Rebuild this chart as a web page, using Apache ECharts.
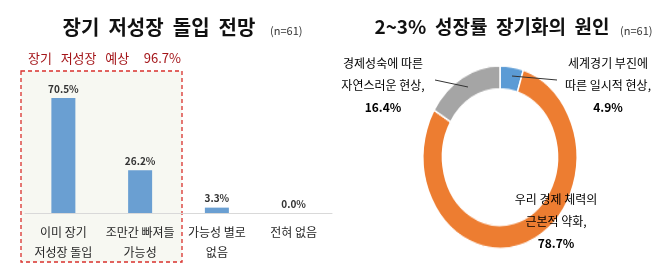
<!DOCTYPE html>
<html>
<head>
<meta charset="utf-8">
<script src="https://cdn.jsdelivr.net/npm/echarts@6/dist/echarts.min.js"></script>
<style>
  html, body { margin: 0; padding: 0; background: #ffffff; }
  #wrap { position: relative; width: 670px; height: 268px; }
  #pie { position: absolute; left: 400px; top: 57px; width: 200px; height: 200px;
         transform: scaleY(1.185); transform-origin: 50% 50%; z-index: 0; }
  #main { position: absolute; left: 0; top: 0; width: 670px; height: 268px; z-index: 1; }
</style>
</head>
<body>
<div id="wrap">
  <div id="pie"></div>
  <div id="main"></div>
</div>
<script>
// left: 장기 저성장 돌입 전망
const barCategories = ["이미 장기\n저성장 돌입", "조만간 빠져들\n가능성", "가능성 별로\n없음", "전혀 없음"];
const barValues = [70.5, 26.2, 3.3, 0.0];

// right: 2~3% 성장률 장기화의 원인
const pieNames = ["세계경기 부진에\n따른 일시적 현상,", "우리 경제 체력의\n근본적 약화,", "경제성숙에 따른\n자연스러운 현상,"];
const pieValues = [4.9, 78.7, 16.4];
const pieColors = ["#5b9bd5", "#ed7d31", "#a5a5a5"];

const FONT = "'Noto Sans CJK KR', 'Noto Sans', sans-serif";
const expected = (barValues[0] + barValues[1]).toFixed(1);

function pieLabel(i) {
  const lines = pieNames[i].split("\n").map(l => `{a|${l}}`).join("\n");
  return `${lines}\n{b|${pieValues[i].toFixed(1)}%}`;
}
const labelRich = {
  a: { fontSize: 12, lineHeight: 22, color: "#333", fontFamily: FONT },
  b: { fontSize: 12, lineHeight: 22, color: "#333", fontWeight: "bold", fontFamily: FONT },
};

// donut, in its own chart so it can be stretched like the original
const pieChart = echarts.init(document.getElementById("pie"));
pieChart.setOption({
  animation: false,
  series: [{
    type: "pie",
    center: ["50%", "50%"],
    radius: [57.5, 77],
    startAngle: 90,
    label: { show: false },
    labelLine: { show: false },
    itemStyle: { borderColor: "#fff", borderWidth: 1.5 },
    data: pieValues.map((v, i) => ({ value: v, name: pieNames[i], itemStyle: { color: pieColors[i] } })),
  }],
});

const chart = echarts.init(document.getElementById("main"));
chart.setOption({
  animation: false,
  backgroundColor: "transparent",
  textStyle: { fontFamily: FONT },
  title: [
    { text: "장기  저성장  돌입  전망", left: 154, top: 12, textAlign: "center",
      textStyle: { fontSize: 20, fontWeight: "bold", color: "#111", fontFamily: FONT } },
    { text: "(n=61)", left: 265, top: 20,
      textStyle: { fontSize: 11, fontWeight: "normal", color: "#333", fontFamily: FONT } },
    { text: "2~3%  성장률  장기화의  원인", left: 487, top: 12, textAlign: "center",
      textStyle: { fontSize: 19, fontWeight: "bold", color: "#111", fontFamily: FONT } },
    { text: "(n=61)", left: 615, top: 20,
      textStyle: { fontSize: 11, fontWeight: "normal", color: "#333", fontFamily: FONT } },
    { text: `장기   저성장   예상     ${expected}%`, left: 23, top: 47,
      textStyle: { fontSize: 13, fontWeight: "normal", color: "#a4161a", fontFamily: FONT } },
  ],
  grid: { left: 25, top: 50, width: 307, height: 163 },
  xAxis: {
    type: "category",
    data: barCategories,
    axisLine: { lineStyle: { color: "#d9d9d9", width: 1 } },
    axisTick: { show: false },
    axisLabel: { interval: 0, margin: 9, fontSize: 12, lineHeight: 20, color: "#262626", fontFamily: FONT },
  },
  yAxis: { type: "value", min: 0, max: 100, show: false },
  series: [{
    type: "bar",
    data: barValues,
    barWidth: 24,
    itemStyle: { color: "#6a9fd2" },
    label: {
      show: true, position: "top", distance: 4,
      formatter: p => p.value.toFixed(1) + "%",
      fontSize: 10, fontWeight: "bold", color: "#333", fontFamily: FONT,
    },
  }],
  graphic: [
    { type: "rect", z: -10, shape: { x: 21, y: 71, width: 161, height: 191 },
      style: { fill: "#f7f8f2", stroke: "#d9302c", lineWidth: 1.3, lineDash: [4, 3] } },
    { type: "line", shape: { x1: 435, y1: 80, x2: 468, y2: 87 }, style: { stroke: "#333", lineWidth: 1 } },
    { type: "line", shape: { x1: 512, y1: 76, x2: 557, y2: 80 }, style: { stroke: "#333", lineWidth: 1 } },
    { type: "text", x: 383, y: 52, style: { text: pieLabel(2), rich: labelRich, align: "center", verticalAlign: "top" } },
    { type: "text", x: 608, y: 52, style: { text: pieLabel(0), rich: labelRich, align: "center", verticalAlign: "top" } },
    { type: "text", x: 556, y: 188, style: { text: pieLabel(1), rich: labelRich, align: "center", verticalAlign: "top" } },
  ],
});
</script>
</body>
</html>
